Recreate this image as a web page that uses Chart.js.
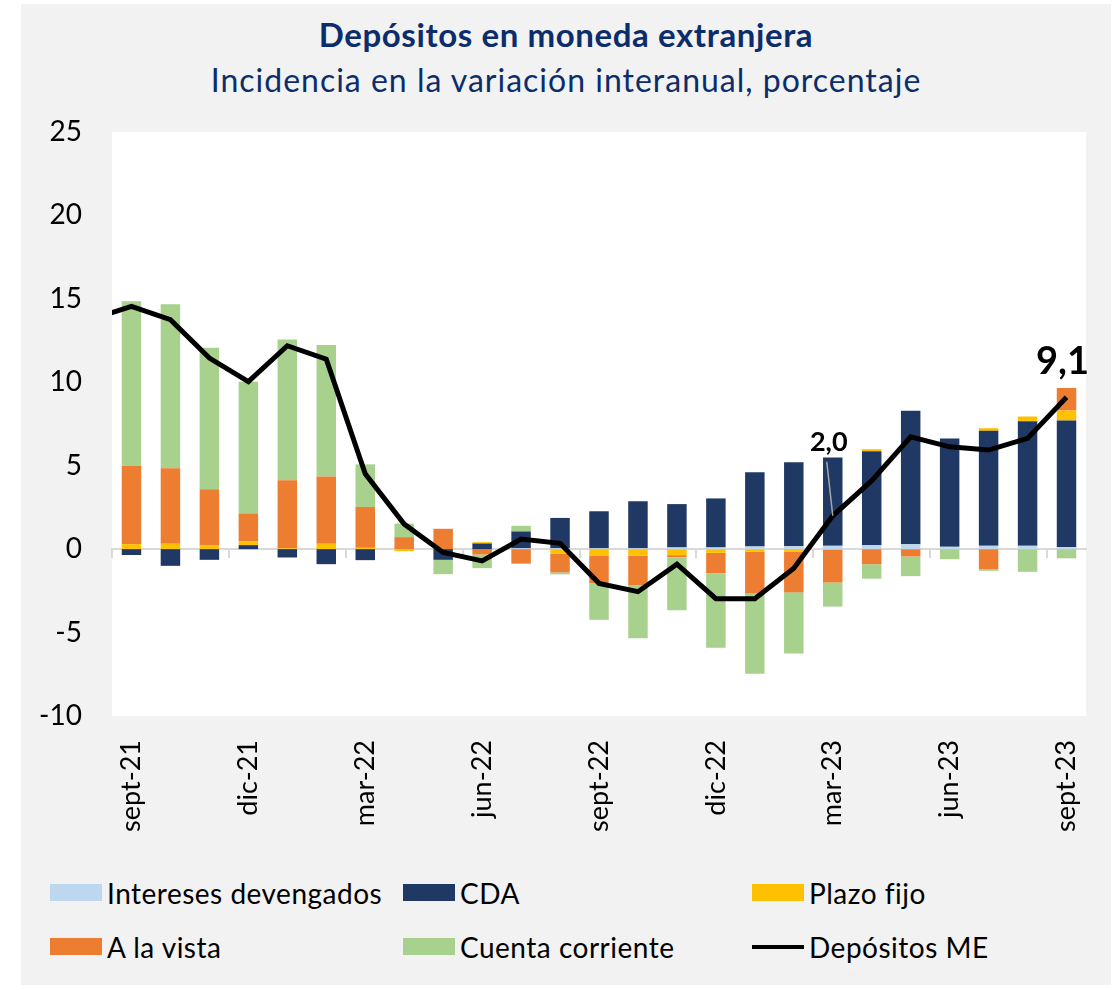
<!DOCTYPE html>
<html>
<head>
<meta charset="utf-8">
<script src="https://cdn.jsdelivr.net/npm/chart.js@4.4.0/dist/chart.umd.min.js"></script>
<style>
  body { margin: 0; background: #fff; font-family: Lato, sans-serif; }
  #frame { position: absolute; left: 21px; top: 4px; width: 1090px; height: 981px; background: #F2F2F2; }
  .title { position: absolute; left: 0; width: 100%; text-align: center; color: #0C2D6B; line-height: 1; white-space: nowrap; }
  #t1 { top: 14px; font-size: 33px; font-weight: bold; letter-spacing: 0.6px; }
  #t2 { top: 60px; font-size: 32px; letter-spacing: 1px; }
  #wrap { position: absolute; left: 0; top: 106px; width: 1090px; height: 740px; }
  .item { position: absolute; display: flex; align-items: center; height: 17px; font-size: 28px; letter-spacing: 0.5px; color: #000; white-space: nowrap; }
  .item .sw { width: 52px; height: 17px; margin-right: 5px; }
  .item .ln { width: 52px; height: 4px; background: #000; margin-right: 5px; }
</style>
</head>
<body>
<div id="frame">
  <div class="title" id="t1">Depósitos en moneda extranjera</div>
  <div class="title" id="t2">Incidencia en la variación interanual, porcentaje</div>
  <div id="wrap"><canvas id="graph"></canvas></div>
  <div id="legend"></div>
</div>
<script>
const categories = ['sept-21', 'oct-21', 'nov-21', 'dic-21', 'ene-22', 'feb-22', 'mar-22', 'abr-22', 'may-22',
    'jun-22', 'jul-22', 'ago-22', 'sept-22', 'oct-22', 'nov-22', 'dic-22', 'ene-23', 'feb-23', 'mar-23',
    'abr-23', 'may-23', 'jun-23', 'jul-23', 'ago-23', 'sept-23'];

const intereses = [0, 0, 0, 0, 0, 0, 0, 0, 0, 0, 0.05, 0.05, 0.05, 0.05, 0.1, 0.1, 0.16, 0.18, 0.2, 0.24, 0.3, 0.14, 0.2, 0.2, 0.12];
const cda = [-0.35, -1.0, -0.64, 0.24, -0.5, -0.9, -0.66, 0, -0.64, 0.34, 1.01, 1.82, 2.22, 2.82, 2.6, 2.94, 4.45, 5.03, 5.29, 5.63, 7.99, 6.49, 6.89, 7.47, 7.59];
const plazoFijo = [0.3, 0.33, 0.24, 0.24, 0.05, 0.32, 0.08, -0.12, 0, 0.08, 0, -0.27, -0.4, -0.4, -0.36, -0.22, -0.16, -0.16, -0.05, 0.12, 0, 0, 0.16, 0.28, 0.6];
const aLaVista = [4.7, 4.52, 3.35, 1.66, 4.08, 4.04, 2.45, 0.72, 1.22, -0.32, -0.87, -1.12, -1.64, -1.75, -0.12, -1.22, -2.5, -2.43, -1.95, -0.9, -0.44, 0, -1.2, 0, 1.35];
const cuentaCorriente = [9.85, 9.82, 8.48, 7.89, 8.43, 7.87, 2.55, 0.81, -0.86, -0.82, 0.34, -0.12, -2.2, -3.19, -3.18, -4.47, -4.81, -3.66, -1.44, -0.87, -1.18, -0.6, -0.1, -1.36, -0.55];

// Total line; the chart starts with a segment coming from ago-21, which sits just left of the plot
const depositosLead = 13.8;
const depositosME = [14.55, 13.75, 11.45, 10.04, 12.19, 11.39, 4.52, 1.5, -0.2, -0.7, 0.6, 0.35, -2.05, -2.55, -0.9, -2.97, -2.97, -1.15, 2.0, 4.1, 6.73, 6.13, 5.94, 6.64, 9.1];
const labelledPoints = [18, 24]; // mar-23 and sept-23

const yTicks = [-10, -5, 0, 5, 10, 15, 20, 25];
const tickEvery = 3;

const barSeries = [
    { label: 'Intereses devengados', data: intereses, color: '#BDD7EE' },
    { label: 'CDA', data: cda, color: '#203864' },
    { label: 'Plazo fijo', data: plazoFijo, color: '#FFC000' },
    { label: 'A la vista', data: aLaVista, color: '#ED7D31' },
    { label: 'Cuenta corriente', data: cuentaCorriente, color: '#A9D18E' }
];

const linePoints = [{ x: -1, y: depositosLead }].concat(depositosME.map((v, i) => ({ x: i, y: v })));

const datasets = barSeries.map(s => ({
    type: 'bar',
    label: s.label,
    data: s.data,
    backgroundColor: s.color,
    borderWidth: 0,
    grouped: false,
    barPercentage: 0.5,
    categoryPercentage: 1,
    xAxisID: 'x',
    yAxisID: 'y',
    order: 1
}));
datasets.push({
    type: 'line',
    label: 'Depósitos ME',
    data: linePoints,
    borderColor: '#000',
    backgroundColor: '#000',
    borderWidth: 5,
    pointRadius: 0,
    tension: 0,
    clip: 0,
    xAxisID: 'xl',
    yAxisID: 'y',
    order: 0
});

const plotBg = {
    id: 'plotBg',
    beforeDraw(chart) {
        const a = chart.chartArea;
        const c = chart.ctx;
        c.save();
        c.fillStyle = '#fff';
        c.fillRect(a.left, a.top, a.right - a.left, a.bottom - a.top);
        c.restore();
    }
};

const pointLabels = {
    id: 'pointLabels',
    afterDatasetsDraw(chart) {
        const meta = chart.getDatasetMeta(datasets.length - 1);
        const c = chart.ctx;
        c.save();
        c.fillStyle = '#000';
        c.textAlign = 'center';
        c.textBaseline = 'alphabetic';
        labelledPoints.forEach((idx, k) => {
            const p = meta.data[idx + 1];
            const txt = depositosME[idx].toFixed(1).replace('.', ',');
            if (k === 0) {
                c.strokeStyle = '#A6A6A6';
                c.lineWidth = 1.5;
                c.beginPath();
                c.moveTo(p.x - 6, p.y - 54);
                c.lineTo(p.x, p.y);
                c.stroke();
                c.font = 'bold 27px Lato';
                c.fillText(txt, p.x - 4, p.y - 65);
            } else {
                c.font = 'bold 38px Lato';
                c.fillText(txt, p.x - 4, p.y - 23);
            }
        });
        c.restore();
    }
};

const noOverflow = s => { s.paddingTop = 0; s.paddingBottom = 0; s.paddingLeft = 0; s.paddingRight = 0; };

const ctx = document.getElementById('graph');
const chart = new Chart(ctx, {
    data: { labels: categories, datasets: datasets },
    options: {
        responsive: true,
        maintainAspectRatio: false,
        animation: false,
        layout: { padding: { top: 22, right: 25, left: 0, bottom: 0 } },
        plugins: { legend: { display: false }, tooltip: { enabled: false } },
        scales: {
            x: {
                type: 'category',
                stacked: true,
                position: 'bottom',
                grid: { display: false, drawTicks: false },
                border: { display: false },
                ticks: {
                    autoSkip: false,
                    maxRotation: 90,
                    minRotation: 90,
                    padding: 24,
                    color: '#000',
                    font: { family: 'Lato', size: 27 },
                    callback: (v, i) => (i % tickEvery === 0 ? categories[i] : '')
                },
                afterFit: s => { s.height = 134; noOverflow(s); }
            },
            x0: {
                type: 'category',
                position: { y: 0 },
                offset: true,
                z: 1,
                grid: {
                    offset: true,
                    drawOnChartArea: false,
                    tickLength: 8,
                    lineWidth: 2,
                    color: c => (c.index % tickEvery === 0 ? '#D9D9D9' : 'rgba(0,0,0,0)')
                },
                border: { color: '#D9D9D9', width: 2 },
                ticks: { display: false, autoSkip: false },
                afterFit: noOverflow
            },
            xl: {
                type: 'linear',
                display: false,
                min: -0.5,
                max: categories.length - 0.5
            },
            y: {
                stacked: true,
                min: yTicks[0],
                max: yTicks[yTicks.length - 1],
                grid: { display: false, drawTicks: false },
                border: { display: false },
                ticks: {
                    stepSize: yTicks[1] - yTicks[0],
                    padding: 30,
                    color: '#000',
                    font: { family: 'Lato', size: 28 },
                    callback: v => String(v)
                },
                afterFit: s => { s.width = 91; noOverflow(s); }
            }
        }
    },
    plugins: [plotBg, pointLabels]
});

// legend built from the chart's datasets, laid out in 3 columns x 2 rows
const legendCols = [29, 382, 731];
const legendRows = [880, 934];
const legendOrder = ['Intereses devengados', 'CDA', 'Plazo fijo', 'A la vista', 'Cuenta corriente', 'Depósitos ME'];
const legend = document.getElementById('legend');
legendOrder.forEach((name, i) => {
    const ds = chart.data.datasets.find(d => d.label === name);
    const item = document.createElement('div');
    item.className = 'item';
    item.style.left = legendCols[i % 3] + 'px';
    item.style.top = legendRows[Math.floor(i / 3)] + 'px';
    const mark = document.createElement('span');
    if (ds.type === 'line') {
        mark.className = 'ln';
    } else {
        mark.className = 'sw';
        mark.style.background = ds.backgroundColor;
    }
    item.appendChild(mark);
    item.appendChild(document.createTextNode(name));
    legend.appendChild(item);
});
</script>
</body>
</html>
